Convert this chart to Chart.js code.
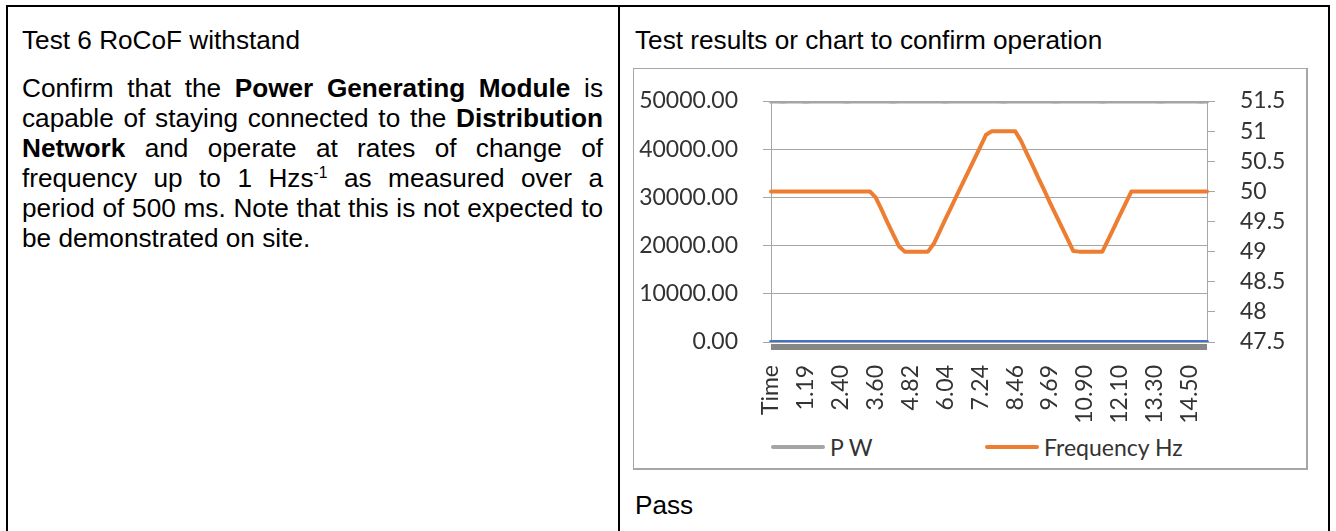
<!DOCTYPE html>
<html>
<head>
<meta charset="utf-8">
<script src="https://cdn.jsdelivr.net/npm/chart.js@4.4.0/dist/chart.umd.min.js"></script>
<style>
  html, body { margin: 0; padding: 0; background: #fff; }
  body { width: 1336px; height: 531px; position: relative; overflow: hidden;
         font-family: "Liberation Sans", Arial, sans-serif; color: #000; }
  #frame { position: absolute; left: 6px; top: 5px; width: 1324px; height: 620px;
           border: 2px solid #000; box-sizing: border-box; }
  #divider { position: absolute; left: 618px; top: 5px; width: 2px; height: 620px; background: #000; }
  .txt { position: absolute; font-size: 26.2px; line-height: 30px; white-space: nowrap; }
  #para { position: absolute; left: 22px; top: 72.5px; width: 581px; font-size: 26.2px;
          line-height: 30px; text-align: justify; }
  #para sup { font-size: 60%; line-height: 0; vertical-align: 0.55em; }
  #chartBox { position: absolute; left: 633px; top: 68px; width: 675px; height: 402px;
              box-sizing: border-box; border: 1px solid #a6a6a6; border-right-width: 2px; border-bottom-width: 2px; }
  #chartWrap { position: absolute; left: 0; top: 0; width: 673px; height: 364px; }
  #legend { position: absolute; left: 137px; top: 364px; height: 28px; display: flex;
            font-family: Lato, sans-serif; font-size: 23px; color: #333; line-height: 28px; }
  .item { display: flex; align-items: center; width: 214px; }
  .swatch { display: inline-block; width: 54px; height: 4px; margin-right: 5px; border-radius: 2px; }
</style>
</head>
<body>
<div id="frame"></div>
<div id="divider"></div>

<div class="txt" style="left:22px; top:24.5px;">Test 6 RoCoF withstand</div>
<div id="para">Confirm that the <b>Power Generating Module</b> is capable of staying connected to the <b>Distribution Network</b> and operate at rates of change of frequency up to 1 Hzs<sup>-1</sup> as measured over a period of 500 ms. Note that this is not expected to be demonstrated on site.</div>

<div class="txt" style="left:635px; top:24.5px;">Test results or chart to confirm operation</div>

<div id="chartBox">
  <div id="chartWrap"><canvas id="chart"></canvas></div>
  <div id="legend"></div>
</div>

<div class="txt" style="left:635px; top:490px;">Pass</div>

<script>
// time column (first row is the header cell "Time")
var timeLabels = ['Time', '0.19', '0.39', '0.59', '0.79', '0.99', '1.19', '1.39', '1.59', '1.80',
    '2.00', '2.20', '2.40', '2.60', '2.80', '3.00', '3.20', '3.40', '3.60', '3.80',
    '4.01', '4.21', '4.41', '4.61', '4.82', '5.02', '5.22', '5.43', '5.63', '5.83',
    '6.04', '6.24', '6.44', '6.64', '6.84', '7.04', '7.24', '7.44', '7.65', '7.85',
    '8.05', '8.26', '8.46', '8.66', '8.87', '9.07', '9.28', '9.48', '9.69', '9.89',
    '10.09', '10.29', '10.49', '10.70', '10.90', '11.10', '11.30', '11.50', '11.70', '11.90',
    '12.10', '12.30', '12.50', '12.70', '12.90', '13.10', '13.30', '13.50', '13.70', '13.90',
    '14.10', '14.30', '14.50', '14.70', '14.90', '15.10'];

var powerW = [49880, 49910, 49870, 49900, 49930, 49890, 49860, 49900, 49920, 49880,
    49910, 49940, 49900, 49870, 49890, 49920, 49900, 49880, 49930, 49910,
    49890, 49870, 49900, 49920, 49940, 49910, 49880, 49900, 49930, 49900,
    49870, 49890, 49920, 49900, 49910, 49880, 49900, 49930, 49910, 49890,
    49870, 49900, 49920, 49900, 49880, 49910, 49940, 49900, 49890, 49870,
    49900, 49920, 49910, 49880, 49900, 49930, 49900, 49870, 49890, 49910,
    49920, 49900, 49880, 49900, 49930, 49910, 49890, 49870, 49900, 49920,
    49900, 49880, 49910, 49900, 49870, 49890];

var freqHz = [50.00, 50.00, 50.00, 50.00, 50.00, 50.00, 50.00, 50.00, 50.00, 50.00,
    50.00, 50.00, 50.00, 50.00, 50.00, 50.00, 50.00, 50.00, 49.90, 49.70,
    49.49, 49.29, 49.09, 49.00, 49.00, 49.00, 49.00, 49.00, 49.13, 49.33,
    49.54, 49.74, 49.94, 50.14, 50.34, 50.54, 50.74, 50.94, 51.00, 51.00,
    51.00, 51.00, 51.00, 50.84, 50.63, 50.43, 50.22, 50.02, 49.81, 49.61,
    49.41, 49.21, 49.01, 49.00, 49.00, 49.00, 49.00, 49.00, 49.20, 49.40,
    49.60, 49.80, 50.00, 50.00, 50.00, 50.00, 50.00, 50.00, 50.00, 50.00,
    50.00, 50.00, 50.00, 50.00, 50.00, 50.00];

// the time column itself is plotted too (header cell counts as 0)
var timeSeries = timeLabels.map(function (t) { return t === 'Time' ? 0 : Number(t); });

var labelEvery = 6;

Chart.defaults.font.family = 'Lato';
Chart.defaults.font.size = 23;
Chart.defaults.color = '#333';

// dark band Excel draws under the category axis
var axisBand = {
    id: 'axisBand',
    beforeDatasetsDraw: function (chart) {
        var a = chart.chartArea, ctx = chart.ctx;
        ctx.save();
        ctx.fillStyle = '#878787';
        ctx.fillRect(a.left, a.bottom + 2, a.right - a.left, 6);
        ctx.restore();
    }
};

// legend laid out like the Excel one (wide, evenly spaced entries)
var htmlLegend = {
    id: 'htmlLegend',
    afterUpdate: function (chart) {
        var box = document.getElementById('legend');
        box.innerHTML = '';
        chart.options.plugins.legend.labels.generateLabels(chart)
            .filter(function (it) { return it.text !== 'Time'; })
            .forEach(function (it) {
                var item = document.createElement('span');
                item.className = 'item';
                var sw = document.createElement('span');
                sw.className = 'swatch';
                sw.style.background = it.strokeStyle;
                item.appendChild(sw);
                item.appendChild(document.createTextNode(it.text));
                box.appendChild(item);
            });
    }
};

// keep the value axes from pushing the plot down (label padding)
function fixWidth(w) {
    return function (s) {
        s.width = w;
        s.paddingTop = 14;
        s.paddingBottom = 14;
    };
}

new Chart('chart', {
    type: 'line',
    data: {
        labels: timeLabels,
        datasets: [{
            label: 'Time',
            data: timeSeries,
            borderColor: '#4472C4',
            backgroundColor: '#4472C4',
            borderWidth: 4,
            yAxisID: 'y'
        }, {
            label: 'P W',
            data: powerW,
            borderColor: '#A5A5A5',
            backgroundColor: '#A5A5A5',
            borderWidth: 4,
            yAxisID: 'y'
        }, {
            label: 'Frequency Hz',
            data: freqHz,
            borderColor: '#ED7D31',
            backgroundColor: '#ED7D31',
            borderWidth: 4,
            yAxisID: 'y1'
        }]
    },
    plugins: [axisBand, htmlLegend],
    options: {
        responsive: true,
        maintainAspectRatio: false,
        animation: false,
        layout: { padding: { top: 32, left: 0, right: 0, bottom: 0 } },
        elements: {
            point: { radius: 0 },
            line: { tension: 0, borderJoinStyle: 'round', borderCapStyle: 'round' }
        },
        plugins: {
            legend: { display: false },
            tooltip: { enabled: false }
        },
        scales: {
            x: {
                grid: { display: false, drawTicks: false },
                border: { display: false },
                ticks: {
                    autoSkip: false,
                    minRotation: 90,
                    maxRotation: 90,
                    padding: 23,
                    callback: function (v, i) { return i % labelEvery === 0 ? timeLabels[i] : ''; }
                },
                afterFit: function (s) { s.height = 91; }
            },
            y: {
                position: 'left',
                min: 0,
                max: 50000,
                ticks: { stepSize: 10000, padding: 25, autoSkip: false,
                         callback: function (v) { return v.toFixed(2); } },
                grid: { color: '#a6a6a6', tickLength: 8 },
                border: { color: '#a6a6a6' },
                afterFit: fixWidth(137)
            },
            y1: {
                position: 'right',
                min: 47.5,
                max: 51.5,
                ticks: { stepSize: 0.5, padding: 25, autoSkip: false,
                         callback: function (v) { return String(v); } },
                grid: { drawOnChartArea: false, color: '#a6a6a6', tickLength: 8 },
                border: { color: '#a6a6a6' },
                afterFit: fixWidth(100)
            }
        }
    }
});
</script>
</body>
</html>
